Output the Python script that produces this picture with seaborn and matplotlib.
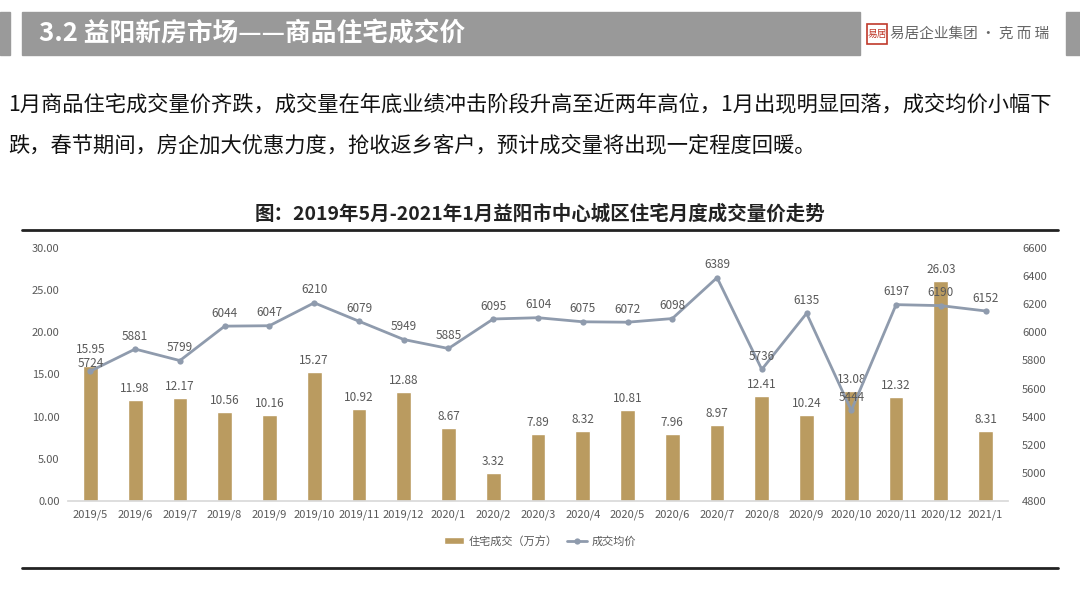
import numpy as np
import pandas as pd
import matplotlib
matplotlib.use("Agg")
import matplotlib.pyplot as plt
from matplotlib.patches import Rectangle
from matplotlib.lines import Line2D
import seaborn as sns

months = ["2019/5", "2019/6", "2019/7", "2019/8", "2019/9", "2019/10", "2019/11", "2019/12",
          "2020/1", "2020/2", "2020/3", "2020/4", "2020/5", "2020/6", "2020/7", "2020/8",
          "2020/9", "2020/10", "2020/11", "2020/12", "2021/1"]
volume = [15.95, 11.98, 12.17, 10.56, 10.16, 15.27, 10.92, 12.88, 8.67, 3.32, 7.89, 8.32,
          10.81, 7.96, 8.97, 12.41, 10.24, 13.08, 12.32, 26.03, 8.31]
price = [5724, 5881, 5799, 6044, 6047, 6210, 6079, 5949, 5885, 6095, 6104, 6075,
         6072, 6098, 6389, 5736, 6135, 5444, 6197, 6190, 6152]
left_ticks = [0, 5, 10, 15, 20, 25, 30]
right_ticks = [4800, 5000, 5200, 5400, 5600, 5800, 6000, 6200, 6400, 6600]

sns.set_theme(style="white")
plt.rcParams['font.family'] = ['Noto Sans CJK SC', 'DejaVu Sans']

df = pd.DataFrame({"month": months, "volume": volume, "price": price,
                   "idx": np.arange(len(months))})

BAR = "#BA9B60"
LINE = "#8F9BAD"
TXT = "#595959"

fig = plt.figure(figsize=(10.8, 6.07), dpi=100)
W, H = 1080, 607

def fx(px):
    return px / W

def fy(py):
    return 1 - py / H

# header bars
fig.patches.append(Rectangle((0, fy(55)), fx(10), fy(12) - fy(55), transform=fig.transFigure,
                             color="#9a9a9a", zorder=0))
fig.patches.append(Rectangle((fx(22), fy(55)), fx(838), fy(12) - fy(55), transform=fig.transFigure,
                             color="#999999", zorder=0))
fig.patches.append(Rectangle((fx(1066), fy(55)), fx(14), fy(12) - fy(55), transform=fig.transFigure,
                             color="#9a9a9a", zorder=0))
fig.text(fx(39), fy(34), "3.2 益阳新房市场——商品住宅成交价", color="white", fontsize=18.5,
         fontweight="bold", va="center", ha="left")
fig.patches.append(Rectangle((fx(867), fy(44)), fx(20), fy(24) - fy(44), transform=fig.transFigure,
                             facecolor="white", edgecolor="#c0392b", lw=1.2, zorder=1))
fig.text(fx(877), fy(34), "易居", color="#c0392b", fontsize=7, va="center", ha="center")
fig.text(fx(890), fy(34), "易居企业集团 · 克 而 瑞", color="#666666", fontsize=10.5,
         va="center", ha="left")

fig.text(fx(8), fy(104), "1月商品住宅成交量价齐跌，成交量在年底业绩冲击阶段升高至近两年高位，1月出现明显回落，成交均价小幅下",
         fontsize=15.3, color="#111111", va="center", ha="left")
fig.text(fx(8), fy(145), "跌，春节期间，房企加大优惠力度，抢收返乡客户，预计成交量将出现一定程度回暖。",
         fontsize=15.3, color="#111111", va="center", ha="left")

fig.text(fx(540), fy(214), "图：2019年5月-2021年1月益阳市中心城区住宅月度成交量价走势", fontsize=14,
         fontweight="bold", color="#222222", ha="center", va="center")
fig.lines.append(Line2D([fx(22), fx(1058)], [fy(230), fy(230)], transform=fig.transFigure,
                        color="#222222", lw=2))
fig.lines.append(Line2D([fx(22), fx(1058)], [fy(568), fy(568)], transform=fig.transFigure,
                        color="#222222", lw=2))

ax = fig.add_axes([fx(68), fy(501), fx(1008 - 68), fy(248) - fy(501)])
sns.barplot(data=df, x="idx", y="volume", color=BAR, width=0.33, ax=ax, saturation=1,
            label="住宅成交（万方）")
ax.set_ylim(0, 30)
ax.set_yticks(left_ticks)
ax.set_yticklabels([f"{v:.2f}" for v in left_ticks])
ax.set_xticks(range(len(months)))
ax.set_xticklabels(months)
ax.set_xlim(-0.5, len(months) - 0.5)
ax.set_xlabel("")
ax.set_ylabel("")
for s in ["top", "right", "left"]:
    ax.spines[s].set_visible(False)
ax.spines["bottom"].set_color("#d9d9d9")
ax.tick_params(axis="both", labelsize=8, colors=TXT, length=0, pad=6)
for i, v in enumerate(volume):
    dy = 0.6 if i != 0 else 1.3
    ax.text(i, v + dy, f"{v:.2f}", ha="center", va="bottom", fontsize=8.5, color=TXT)

ax2 = ax.twinx()
sns.lineplot(data=df, x="idx", y="price", ax=ax2, color=LINE, lw=2, marker="o", markersize=4.5,
             markeredgewidth=0, label="成交均价")
ax2.set_ylim(4800, 6600)
ax2.set_yticks(right_ticks)
ax2.set_ylabel("")
ax2.set_xlabel("")
for s in ["top", "right", "left", "bottom"]:
    ax2.spines[s].set_visible(False)
ax2.tick_params(axis="y", labelsize=8, colors=TXT, length=0, pad=10)
for i, v in enumerate(price):
    dy = 45 if i != 0 else 8
    ax2.text(i, v + dy, f"{v}", ha="center", va="bottom", fontsize=8.5, color=TXT)

if ax.get_legend():
    ax.get_legend().remove()
ax2.get_legend().remove()
h1, l1 = ax.get_legend_handles_labels()
h2, l2 = ax2.get_legend_handles_labels()
fig.legend(h1 + h2, l1 + l2, loc="center", bbox_to_anchor=(0.5, fy(541)), ncol=2, frameon=False,
           fontsize=8, labelcolor=TXT, handlelength=1.8, columnspacing=0.8, handletextpad=0.4)

fig.savefig("out.png", dpi=100)
